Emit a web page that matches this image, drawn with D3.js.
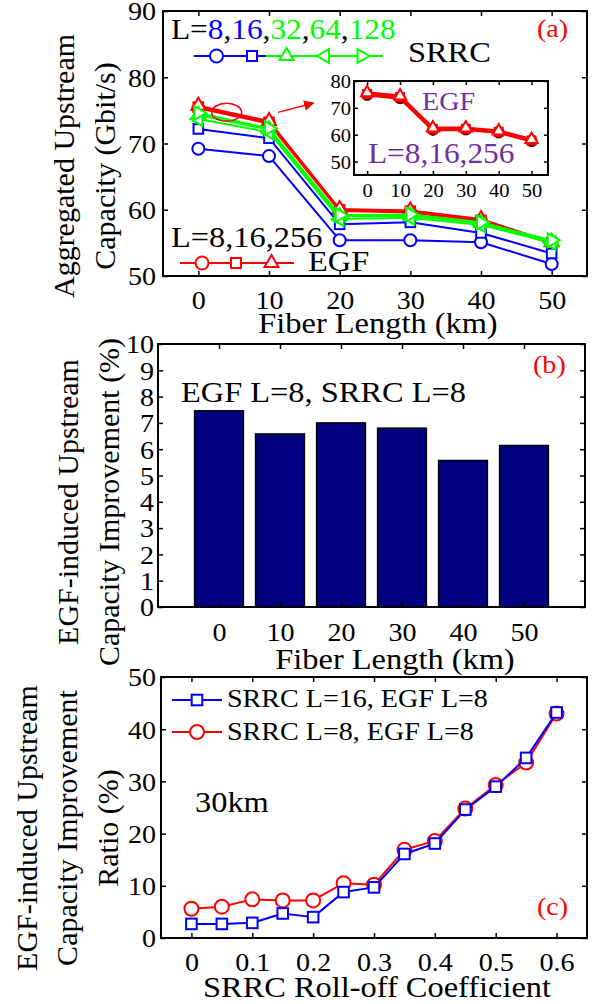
<!DOCTYPE html>
<html><head><meta charset="utf-8">
<script src="https://cdn.jsdelivr.net/npm/d3@7"></script>
<style>
html,body{margin:0;padding:0;background:#fff;}
svg text{font-family:"Liberation Serif","Times New Roman",serif;}
</style></head><body>
<svg id="fig" width="601" height="1004"></svg>
<script>
// ---------- data ----------
const fiberKm = [0, 10, 20, 30, 40, 50];
// (a) aggregated upstream capacity, Gbit/s
const srrcL8   = [69.2, 68.1, 55.4, 55.4, 55.1, 51.8];
const srrcL16  = [72.2, 70.8, 57.8, 58.1, 56.5, 53.4];
const srrcL32  = [74.3, 72.1, 59.0, 59.1, 58.0, 55.2];
const srrcL64  = [73.7, 71.7, 58.6, 58.8, 57.7, 55.0];
const srrcL128 = [74.6, 72.3, 59.2, 59.3, 58.1, 55.4];
const egfL8    = [75.3, 73.0, 59.8, 59.6, 58.3, 54.9];
const egfL16   = [75.5, 73.2, 60.0, 59.8, 58.4, 55.0];
const egfL256  = [75.7, 73.4, 60.1, 59.9, 58.6, 55.1];
// inset: EGF curves alone
const insetEgfL8   = [74.8, 73.6, 61.8, 61.9, 60.8, 57.6];
const insetEgfL16  = [75.2, 74.0, 62.1, 62.2, 61.1, 57.9];
const insetEgfL256 = [75.6, 74.4, 62.5, 62.5, 61.4, 58.2];
// (b) EGF-induced improvement, %
const improvement = [7.46, 6.58, 7.0, 6.8, 5.57, 6.14];
// (c) improvement ratio vs roll-off at 30 km, %
const rolloff  = [0, 0.05, 0.1, 0.15, 0.2, 0.25, 0.3, 0.35, 0.4, 0.45, 0.5, 0.55, 0.6];
const ratioL16 = [2.7, 2.7, 2.9, 4.7, 4.0, 8.8, 9.7, 16.1, 18.1, 24.6, 29.0, 34.5, 43.2];
const ratioL8  = [5.6, 6.0, 7.4, 7.2, 7.2, 10.5, 10.2, 16.9, 18.6, 24.8, 29.3, 33.6, 43.0];

const ticksA = {x: [0, 10, 20, 30, 40, 50], y: [50, 60, 70, 80, 90]};
const ticksInset = {x: [0, 10, 20, 30, 40, 50], y: [50, 60, 70, 80]};
const ticksB = {x: [0, 10, 20, 30, 40, 50], y: [0, 1, 2, 3, 4, 5, 6, 7, 8, 9, 10]};
const ticksC = {x: [0, 0.1, 0.2, 0.3, 0.4, 0.5, 0.6], y: [0, 10, 20, 30, 40, 50]};

// ---------- helpers ----------
const svg = d3.select("#fig");
const SX = 1.08;          // horizontal glyph stretch of the figure text
const BLUE = "#0000ff", GREEN = "#00ff00", RED = "#ff0000", PURPLE = "#7030a0", NAVY = "#000080";

function label(g, x, y, str, o = {}) {
  const t = g.append("text")
    .attr("transform", `translate(${x},${y}) scale(${SX},1)`)
    .attr("font-size", o.size || 30)
    .attr("fill", o.fill || "#000")
    .attr("text-anchor", o.anchor || "start");
  if (Array.isArray(str)) str.forEach(([s, c]) => t.append("tspan").attr("fill", c).text(s));
  else t.text(str);
  return t;
}
function vlabel(g, x, y, str, size) {
  g.append("text").attr("transform", `translate(${x},${y}) rotate(-90)`)
    .attr("font-size", size).attr("text-anchor", "middle").text(str);
}

function frame(g, xs, ys, o) {
  const [x0, x1] = xs.range(), [yb, yt] = ys.range();
  const tl = o.tick || 5;
  const fmt = o.xf || d3.format("d");
  const bottom = g.append("g").attr("transform", `translate(0,${yb})`)
    .call(d3.axisBottom(xs).tickValues(o.xt).tickSizeInner(-tl).tickSizeOuter(0).tickPadding(0).tickFormat(fmt));
  bottom.selectAll("text").attr("y", o.xOff).attr("dy", null)
    .attr("transform", `scale(${SX},1)`).attr("font-size", o.fs);
  const left = g.append("g").attr("transform", `translate(${x0},0)`)
    .call(d3.axisLeft(ys).tickValues(o.yt).tickSizeInner(-tl).tickSizeOuter(0).tickPadding(0).tickFormat(d3.format("d")));
  left.selectAll("text").attr("x", -o.yGap / SX).attr("dy", "0.34em")
    .attr("transform", `scale(${SX},1)`).attr("font-size", o.fs);
  g.append("g").attr("transform", `translate(0,${yt})`)
    .call(d3.axisTop(xs).tickValues(o.xt).tickSizeInner(-tl).tickSizeOuter(0).tickFormat(""));
  g.append("g").attr("transform", `translate(${x1},0)`)
    .call(d3.axisRight(ys).tickValues(o.yt).tickSizeInner(-tl).tickSizeOuter(0).tickFormat(""));
  g.selectAll(".domain").remove();
  g.selectAll(".tick line").attr("stroke", "#000").attr("stroke-width", 1.5);
  g.append("rect").attr("x", x0).attr("y", yt).attr("width", x1 - x0).attr("height", yb - yt)
    .attr("fill", "none").attr("stroke", "#000").attr("stroke-width", 2);
}

function mark(g, type, x, y, color, s, fill) {
  const f = fill || "#fff";
  let el;
  if (type === "o") el = g.append("circle").attr("cx", x).attr("cy", y).attr("r", s);
  else if (type === "s") el = g.append("rect").attr("x", x - s).attr("y", y - s).attr("width", 2 * s).attr("height", 2 * s);
  else {
    const h = 0.87 * s, q = 0.5 * s;
    const pts = {
      "^": [[x, y - s], [x + h, y + q], [x - h, y + q]],
      "<": [[x - s, y], [x + q, y - h], [x + q, y + h]],
      ">": [[x + s, y], [x - q, y - h], [x - q, y + h]]
    }[type];
    el = g.append("path").attr("d", "M" + pts.map(p => p.join(",")).join("L") + "Z");
  }
  el.attr("fill", f).attr("stroke", color).attr("stroke-width", 2);
}
const sizeOf = {o: 6, s: 4.8, "^": 8, "<": 8, ">": 8};

function series(g, xs, ys, xv, yv, color, type, o = {}) {
  const line = d3.line().x((d, i) => xs(xv[i])).y(d => ys(d));
  g.append("path").attr("d", line(yv)).attr("fill", "none")
    .attr("stroke", color).attr("stroke-width", o.lw || 2).attr("stroke-linejoin", "round");
  yv.forEach((v, i) => mark(g, type, xs(xv[i]), ys(v), o.mc || color, o.size || sizeOf[type], o.fill));
}

// ---------- (a) ----------
const ga = svg.append("g");
const ax = d3.scaleLinear().domain([-5, 55]).range([163, 587]);
const ay = d3.scaleLinear().domain([50, 90]).range([276, 11]);

series(ga, ax, ay, fiberKm, egfL8, RED, "o");
series(ga, ax, ay, fiberKm, egfL16, RED, "s");
series(ga, ax, ay, fiberKm, egfL256, RED, "^");
series(ga, ax, ay, fiberKm, srrcL8, BLUE, "o");
series(ga, ax, ay, fiberKm, srrcL16, BLUE, "s");
series(ga, ax, ay, fiberKm, srrcL32, GREEN, "^");
series(ga, ax, ay, fiberKm, srrcL64, GREEN, "<");
series(ga, ax, ay, fiberKm, srrcL128, GREEN, ">");

// SRRC key
label(ga, 171, 39, [["L=", "#000"], ["8", BLUE], [",", "#000"], ["16", BLUE], [",", "#000"],
  ["32", GREEN], [",", "#000"], ["64", GREEN], [",", "#000"], ["128", GREEN]], {size: 29});
ga.append("line").attr("x1", 194).attr("x2", 266).attr("y1", 56).attr("y2", 56).attr("stroke", BLUE).attr("stroke-width", 2);
ga.append("line").attr("x1", 266).attr("x2", 383).attr("y1", 56).attr("y2", 56).attr("stroke", GREEN).attr("stroke-width", 2);
mark(ga, "o", 216.5, 56, BLUE, 6.5);
mark(ga, "s", 252, 56, BLUE, 5);
mark(ga, "^", 286.5, 56, GREEN, 8);
mark(ga, "<", 325, 56, GREEN, 8);
mark(ga, ">", 361.5, 56, GREEN, 8);
label(ga, 408, 62, "SRRC", {size: 30});

// EGF key
label(ga, 171, 247, "L=8,16,256", {size: 30});
ga.append("line").attr("x1", 180).attr("x2", 294).attr("y1", 263).attr("y2", 263).attr("stroke", RED).attr("stroke-width", 2);
mark(ga, "o", 202, 263, RED, 6.5);
mark(ga, "s", 236, 263, RED, 5);
mark(ga, "^", 271.5, 263, RED, 8);
label(ga, 308, 271, "EGF", {size: 30});

label(ga, 537, 37, "(a)", {size: 26, fill: RED});

// callout from the 0 km cluster to the inset
ga.append("ellipse").attr("cx", ax(4)).attr("cy", ay(74.7)).attr("rx", 15).attr("ry", 9)
  .attr("fill", "none").attr("stroke", RED).attr("stroke-width", 1.5);
svg.append("defs").append("marker").attr("id", "arr").attr("viewBox", "0 0 10 10")
  .attr("refX", 9).attr("refY", 5).attr("markerWidth", 7).attr("markerHeight", 7).attr("orient", "auto")
  .append("path").attr("d", "M0,0L10,5L0,10Z").attr("fill", RED);
ga.append("line").attr("x1", ax(11.3)).attr("y1", ay(74.7)).attr("x2", ax(16.3)).attr("y2", ay(76.1))
  .attr("stroke", RED).attr("stroke-width", 1.5).attr("marker-end", "url(#arr)");

frame(ga, ax, ay, {xt: ticksA.x, yt: ticksA.y, fs: 26, xOff: 33, yGap: 7});
vlabel(ga, 74, 166, "Aggregated Upstream", 30);
vlabel(ga, 115, 166, "Capacity (Gbit/s)", 30);
label(ga, 378, 333, "Fiber Length (km)", {size: 30, anchor: "middle"});

// inset
const gi = svg.append("g");
const ix = d3.scaleLinear().domain([-4, 55]).range([354, 548]);
const iy = d3.scaleLinear().domain([45, 80]).range([175, 81]);
gi.append("rect").attr("x", 354).attr("y", 81).attr("width", 194).attr("height", 94).attr("fill", "#fff");
series(gi, ix, iy, fiberKm, insetEgfL8, RED, "o", {lw: 3, size: 5, mc: "#5a0000", fill: "#8b0000"});
series(gi, ix, iy, fiberKm, insetEgfL16, RED, "s", {lw: 3, size: 4});
series(gi, ix, iy, fiberKm, insetEgfL256, RED, "^", {lw: 3, size: 7});
label(gi, 422, 110, "EGF", {size: 26, fill: PURPLE});
label(gi, 368, 163, "L=8,16,256", {size: 29, fill: PURPLE});
frame(gi, ix, iy, {xt: ticksInset.x, yt: ticksInset.y, fs: 19, xOff: 22, yGap: 3, tick: 4});

// ---------- (b) ----------
const gb = svg.append("g");
const bx = d3.scaleLinear().domain([-10, 60]).range([158, 585]);
const by = d3.scaleLinear().domain([0, 10]).range([607, 344]);
gb.selectAll("rect.bar").data(improvement).join("rect").attr("class", "bar")
  .attr("x", (d, i) => bx(fiberKm[i] - 4)).attr("width", bx(4) - bx(-4))
  .attr("y", d => by(d)).attr("height", d => by(0) - by(d))
  .attr("fill", NAVY).attr("stroke", "#000").attr("stroke-width", 1.5);
label(gb, 181, 402, "EGF L=8, SRRC L=8", {size: 30});
label(gb, 533, 373, "(b)", {size: 26, fill: RED});
frame(gb, bx, by, {xt: ticksB.x, yt: ticksB.y, fs: 26, xOff: 34, yGap: 4});
vlabel(gb, 78, 502, "EGF-induced Upstream", 30);
vlabel(gb, 119, 502, "Capacity Improvement (%)", 30);
label(gb, 395, 669, "Fiber Length (km)", {size: 30, anchor: "middle"});

// ---------- (c) ----------
const gc = svg.append("g");
const cx = d3.scaleLinear().domain([-0.05, 0.65]).range([161, 587]);
const cy = d3.scaleLinear().domain([0, 50]).range([938, 677]);
series(gc, cx, cy, rolloff, ratioL8, RED, "o", {size: 7});
series(gc, cx, cy, rolloff, ratioL16, BLUE, "s", {size: 5.3});

gc.append("line").attr("x1", 172).attr("x2", 222).attr("y1", 700).attr("y2", 700).attr("stroke", BLUE).attr("stroke-width", 2);
mark(gc, "s", 197, 700, BLUE, 5.3);
label(gc, 227, 707, "SRRC L=16, EGF L=8", {size: 26});
gc.append("line").attr("x1", 172).attr("x2", 222).attr("y1", 732).attr("y2", 732).attr("stroke", RED).attr("stroke-width", 2);
mark(gc, "o", 197, 732, RED, 7);
label(gc, 227, 740, "SRRC L=8, EGF L=8", {size: 26});
label(gc, 195, 812, "30km", {size: 30});
label(gc, 537, 915, "(c)", {size: 26, fill: RED});

frame(gc, cx, cy, {xt: ticksC.x, yt: ticksC.y, fs: 26, xOff: 33, yGap: 5,
  xf: d => d === 0 ? "0" : d3.format(".1f")(d)});
vlabel(gc, 37, 828, "EGF-induced Upstream", 30);
vlabel(gc, 77, 828, "Capacity Improvement", 30);
vlabel(gc, 118, 828, "Ratio (%)", 30);
label(gc, 377, 997, "SRRC Roll-off Coefficient", {size: 30, anchor: "middle"});
</script></body></html>
